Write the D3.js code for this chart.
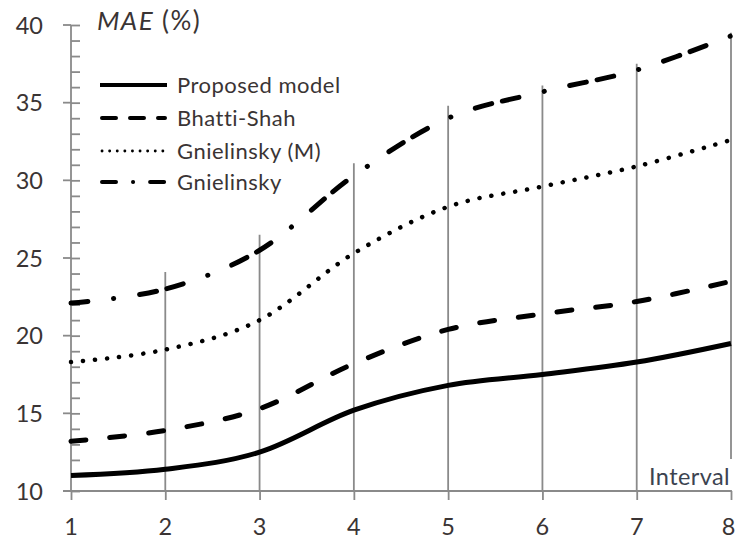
<!DOCTYPE html>
<html>
<head>
<meta charset="utf-8">
<script src="https://cdn.jsdelivr.net/npm/d3@7"></script>
<style>
  html, body { margin: 0; padding: 0; background: #fff; }
  svg { display: block; }
  text { font-family: Lato, "Open Sans", sans-serif; }
</style>
</head>
<body>
<svg id="chart" width="736" height="540"></svg>
<script>
// Mean absolute error per interval for each correlation
const intervals   = [1, 2, 3, 4, 5, 6, 7, 8];
const proposed    = [11.0, 11.4, 12.5, 15.2, 16.8, 17.5, 18.3, 19.5];
const bhattiShah  = [13.2, 13.9, 15.3, 18.2, 20.4, 21.4, 22.2, 23.5];
const gnielinskyM = [18.3, 19.1, 21.0, 25.3, 28.3, 29.6, 30.9, 32.6];
const gnielinsky  = [22.1, 23.0, 25.5, 30.3, 34.0, 35.7, 37.1, 39.3];
// upper ends of the vertical guide lines at intervals 2..8
const guideTops   = [24.1, 26.5, 31.1, 34.8, 36.1, 37.5, 39.5];
const yTicks      = [10, 15, 20, 25, 30, 35, 40];
const seriesNames = ["Proposed model", "Bhatti-Shah", "Gnielinsky (M)", "Gnielinsky"];

const series = [
  { name: seriesNames[0], values: proposed,    dash: null,                 offset: 0,  legendDash: null,             w: 5,   lw: 4 },
  { name: seriesNames[1], values: bhattiShah,  dash: "15 24",              offset: 0,  legendDash: "14 14",          w: 5,   lw: 4 },
  { name: seriesNames[2], values: gnielinskyM, dash: "0.1 12",             offset: 0,  legendDash: "0.1 7.5",        w: 4.5, lw: 2.8 },
  { name: seriesNames[3], values: gnielinsky,  dash: "17 11 17 26 0.1 26", offset: 28, legendDash: "14 17 0.1 17 14", w: 5, lw: 4 }
];

const svg = d3.select("#chart");
const W = 736;
const x = d3.scaleLinear().domain([1, 8]).range([71, 731]);
const y = d3.scaleLinear().domain([10, 40]).range([491, 25]);

const axisColor = "#8a8a8a";
const textColor = "#3a3434";

// vertical guide lines
svg.append("g").selectAll("line")
  .data(guideTops)
  .join("line")
  .attr("x1", (d, i) => x(intervals[i + 1]))
  .attr("x2", (d, i) => x(intervals[i + 1]))
  .attr("y1", y(10))
  .attr("y2", d => y(d))
  .attr("stroke", axisColor)
  .attr("stroke-width", 1.8);

// y axis: minor ticks inside, major ticks crossing the axis line
const yAxis = svg.append("g").attr("transform", `translate(${x(1)},0)`);
yAxis.call(d3.axisRight(y).tickValues(d3.range(10, 41, 1)).tickSize(9).tickFormat(""));
yAxis.select(".domain").remove();
yAxis.append("line").attr("x1", 0).attr("x2", 0).attr("y1", y(40)).attr("y2", y(10));
yAxis.selectAll("line").attr("stroke", axisColor).attr("stroke-width", 1.8);
yAxis.selectAll(".major")
  .data(yTicks)
  .join("line")
  .attr("class", "major")
  .attr("x1", -8).attr("x2", 0)
  .attr("y1", d => y(d)).attr("y2", d => y(d))
  .attr("stroke", axisColor).attr("stroke-width", 1.8);

svg.append("g").selectAll("text")
  .data(yTicks)
  .join("text")
  .attr("x", 43)
  .attr("y", d => y(d) + 8.5)
  .attr("text-anchor", "end")
  .attr("font-size", 23.5)
  .attr("fill", textColor)
  .text(d => d);

// x axis
const xAxis = svg.append("g").attr("transform", `translate(0,${y(10)})`);
xAxis.call(d3.axisBottom(x).tickValues(intervals).tickSize(9).tickFormat(""));
xAxis.select(".domain").remove();
xAxis.append("line").attr("x1", x(1) - 8).attr("x2", x(8)).attr("y1", 0).attr("y2", 0);
xAxis.selectAll("line").attr("stroke", axisColor).attr("stroke-width", 1.8);

svg.append("g").selectAll("text")
  .data(intervals)
  .join("text")
  .attr("x", d => Math.min(x(d), W - 7.5))
  .attr("y", 535)
  .attr("text-anchor", "middle")
  .attr("font-size", 23.5)
  .attr("fill", textColor)
  .text(d => d);

// axis titles
const title = svg.append("text")
  .attr("x", 97).attr("y", 30)
  .attr("font-size", 26)
  .attr("letter-spacing", 1.4)
  .attr("fill", textColor);
title.append("tspan").attr("font-style", "italic").text("MAE");
title.append("tspan").text(" (%)");

const xTitleBox = svg.append("rect").attr("fill", "#fff");
const xTitle = svg.append("text")
  .attr("x", 730).attr("y", 485)
  .attr("text-anchor", "end")
  .attr("font-size", 23.5)
  .attr("letter-spacing", 0.4)
  .attr("fill", "#3c4350")
  .text("Interval");
const bb = xTitle.node().getBBox();
xTitleBox.attr("x", bb.x - 2).attr("y", bb.y - 3).attr("width", bb.width + 8).attr("height", bb.height + 3);

// series lines, smoothed
const line = d3.line()
  .x((d, i) => x(intervals[i]))
  .y(d => y(d))
  .curve(d3.curveCatmullRom.alpha(0));

svg.append("g").selectAll("path")
  .data(series)
  .join("path")
  .attr("d", d => line(d.values))
  .attr("fill", "none")
  .attr("stroke", "#000")
  .attr("stroke-width", d => d.w)
  .attr("stroke-linecap", d => d.dash ? "round" : "butt")
  .attr("stroke-linejoin", "round")
  .attr("stroke-dasharray", d => d.dash)
  .attr("stroke-dashoffset", d => d.offset);

// legend
const legend = svg.append("g").selectAll("g")
  .data(series)
  .join("g")
  .attr("transform", (d, i) => `translate(100,${[85, 118, 151, 182][i]})`);
legend.append("line")
  .attr("x1", d => d.legendDash ? 2 : 0)
  .attr("x2", d => d.legendDash ? 65 : 67)
  .attr("stroke", "#000")
  .attr("stroke-width", d => d.lw)
  .attr("stroke-linecap", d => d.legendDash ? "round" : "butt")
  .attr("stroke-dasharray", d => d.legendDash);
legend.append("text")
  .attr("x", 77).attr("y", 8)
  .attr("font-size", 22)
  .attr("letter-spacing", 0.5)
  .attr("fill", textColor)
  .text(d => d.name);
</script>
</body>
</html>
